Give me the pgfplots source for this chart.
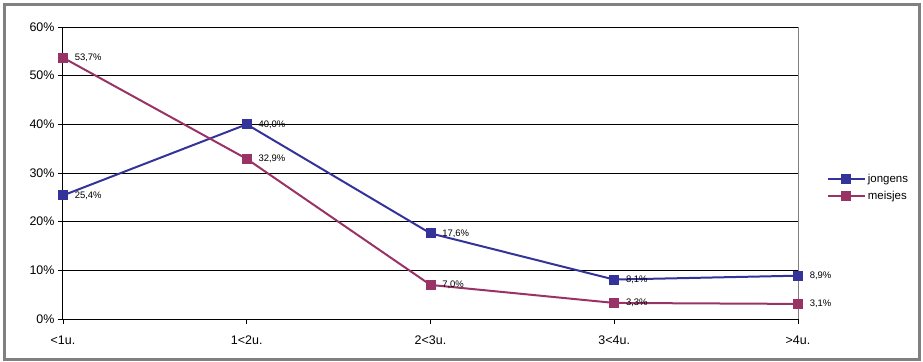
\documentclass[border=0pt]{standalone}
\usepackage{pgfplots}
\pgfplotsset{compat=1.18}
\usepackage{fontspec}
\setmainfont{Liberation Sans}
\definecolor{jong}{HTML}{333399}
\definecolor{meis}{HTML}{993366}
\definecolor{bord}{HTML}{808080}
\begin{document}
\begin{tikzpicture}
\useasboundingbox (0bp,0bp) rectangle (923bp,362bp);
\draw[bord, line width=3bp] (4.5bp,2.5bp) rectangle (919.5bp,357.5bp);
\begin{axis}[
  /pgf/number format/assume math mode=true,
  at={(63bp,43bp)}, anchor=south west,
  scale only axis, width=735bp, height=292bp,
  xmin=0, xmax=4, ymin=0, ymax=60,
  clip=false,
  axis x line*=bottom, axis y line*=left,
  axis line style={-, black, line width=1bp},
  ytick={0,10,...,60},
  yticklabel={\pgfmathprintnumber{\tick}\%},
  xtick={0,1,2,3,4},
  xticklabels={<1u.,1<2u.,2<3u.,3<4u.,>4u.},
  ymajorgrids,
  grid style={black, line width=1bp},
  tick style={black, line width=0.8bp},
  major tick length=5bp, tick align=outside,
  yticklabel style={font=\fontsize{12.5}{14}\selectfont},
  xticklabel style={font=\fontsize{12.5}{14}\selectfont, yshift=-8bp},
  nodes near coords={\pgfmathprintnumber[fixed,fixed zerofill,precision=1,use comma,assume math mode=true]{\pgfplotspointmeta}\%},
  every node near coord/.append style={anchor=west, font=\fontsize{9.5}{11}\selectfont, text=black, xshift=8bp},
  legend style={draw=none, fill=none, at={(1.035,0.45)}, anchor=west, font=\fontsize{11.5}{13}\selectfont, row sep=4bp},
  legend cell align=left,
  legend image code/.code={\draw[mark repeat=2, mark phase=2] plot coordinates {(0bp,0bp) (18bp,0bp) (37bp,0bp)};},
]
\draw[bord, line width=1bp] (axis cs:4,0) -- (axis cs:4,60);
\addplot[jong, line width=2bp, mark=square*, mark size=4.5bp, mark options={solid, line width=1bp}]
  coordinates {(0,25.4) (1,40.0) (2,17.6) (3,8.1) (4,8.9)};
\addlegendentry{jongens}
\addplot[meis, line width=2bp, mark=square*, mark size=4.5bp, mark options={solid, line width=1bp}]
  coordinates {(0,53.7) (1,32.9) (2,7.0) (3,3.3) (4,3.1)};
\addlegendentry{meisjes}
\end{axis}
\end{tikzpicture}
\end{document}
